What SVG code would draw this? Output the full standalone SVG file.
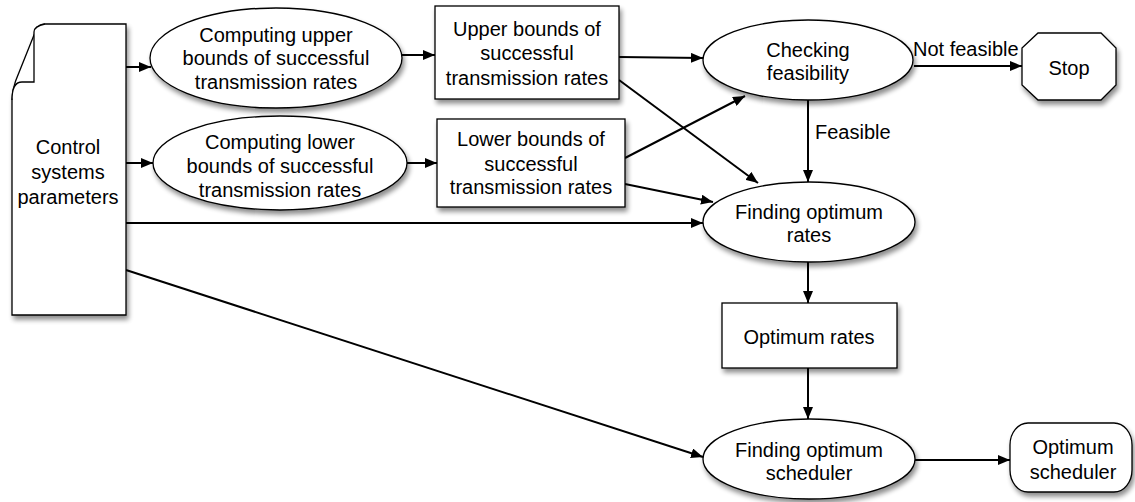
<svg xmlns="http://www.w3.org/2000/svg" width="1135" height="502" viewBox="0 0 1135 502">
<defs>
<style>
.shape{fill:#fff;stroke:#000;stroke-width:1.3}
.lbl{font-family:"Liberation Sans",Arial,sans-serif;font-size:20px;fill:#000;text-anchor:middle}
.lft{text-anchor:start}
.con{fill:none;stroke:#000;stroke-width:2}
</style>
<filter id="sh" x="-10%" y="-10%" width="130%" height="140%">
<feGaussianBlur in="SourceAlpha" stdDeviation="2.5"/>
<feOffset dx="2" dy="4" result="b"/>
<feComponentTransfer><feFuncA type="linear" slope="0.45"/></feComponentTransfer>
<feMerge><feMergeNode/><feMergeNode in="SourceGraphic"/></feMerge>
</filter>
<marker id="ar" viewBox="0 0 12 10" refX="12" refY="5" markerWidth="12" markerHeight="10" markerUnits="userSpaceOnUse" orient="auto">
<path d="M0,0 L12,5 L0,10 Z" fill="#000"/>
</marker>
</defs>
<rect width="1135" height="502" fill="#fff"/>

<g id="connectors">
<line class="con" x1="126" y1="67" x2="151" y2="67" marker-end="url(#ar)"/>
<line class="con" x1="126" y1="163" x2="153" y2="163" marker-end="url(#ar)"/>
<line class="con" x1="402" y1="55" x2="435" y2="55" marker-end="url(#ar)"/>
<line class="con" x1="407" y1="163" x2="437" y2="163" marker-end="url(#ar)"/>
<line class="con" x1="619" y1="57" x2="703" y2="58" marker-end="url(#ar)"/>
<line class="con" x1="619" y1="80" x2="758" y2="183" marker-end="url(#ar)"/>
<line class="con" x1="625" y1="158" x2="745" y2="96" marker-end="url(#ar)"/>
<line class="con" x1="625" y1="184" x2="713" y2="202" marker-end="url(#ar)"/>
<line class="con" x1="126" y1="223" x2="703" y2="223" marker-end="url(#ar)"/>
<line class="con" x1="126" y1="270" x2="703" y2="457" marker-end="url(#ar)"/>
<line class="con" x1="914" y1="66" x2="1022" y2="66" marker-end="url(#ar)"/>
<text class="lbl lft" x="913" y="56">Not feasible</text>
<line class="con" x1="808" y1="100" x2="808" y2="182" marker-end="url(#ar)"/>
<text class="lbl lft" x="815" y="139">Feasible</text>
<line class="con" x1="808" y1="262" x2="808" y2="303" marker-end="url(#ar)"/>
<line class="con" x1="808" y1="368" x2="808" y2="419" marker-end="url(#ar)"/>
<line class="con" x1="915" y1="460" x2="1010" y2="460" marker-end="url(#ar)"/>
</g>

<g id="control-params">
<path class="shape" filter="url(#sh)" d="M12,100 C12,90 14,86 16,80 L36,30 C38,26 40,24 45,24 L126,24 L126,315 L12,315 Z"/>
<path class="shape" d="M45,24 C40,25 34,27 34,32 L34,82 L22,82 C16,82 12,86 12,100"/>
<text class="lbl" x="68" y="154">Control</text>
<text class="lbl" x="68" y="179">systems</text>
<text class="lbl" x="68" y="204">parameters</text>
</g>

<g id="compute-upper">
<ellipse class="shape" filter="url(#sh)" cx="276" cy="58" rx="126" ry="50"/>
<text class="lbl" x="276" y="42">Computing upper</text>
<text class="lbl" x="276" y="65">bounds of successful</text>
<text class="lbl" x="276" y="89">transmission rates</text>
</g>

<g id="compute-lower">
<ellipse class="shape" filter="url(#sh)" cx="280" cy="163" rx="127" ry="47"/>
<text class="lbl" x="280" y="149">Computing lower</text>
<text class="lbl" x="280" y="173">bounds of successful</text>
<text class="lbl" x="280" y="197">transmission rates</text>
</g>

<g id="upper-bounds">
<rect class="shape" filter="url(#sh)" x="435" y="6" width="184" height="93"/>
<text class="lbl" x="527" y="36">Upper bounds of</text>
<text class="lbl" x="527" y="60">successful</text>
<text class="lbl" x="527" y="85">transmission rates</text>
</g>

<g id="lower-bounds">
<rect class="shape" filter="url(#sh)" x="437" y="119" width="188" height="88"/>
<text class="lbl" x="531" y="146">Lower bounds of</text>
<text class="lbl" x="531" y="171">successful</text>
<text class="lbl" x="531" y="194">transmission rates</text>
</g>

<g id="checking">
<ellipse class="shape" filter="url(#sh)" cx="808" cy="60" rx="105" ry="40"/>
<text class="lbl" x="808" y="57">Checking</text>
<text class="lbl" x="808" y="80">feasibility</text>
</g>

<g id="stop">
<polygon class="shape" filter="url(#sh)" points="1038,33 1101,33 1116,48 1116,85 1101,100 1038,100 1022,85 1022,48"/>
<text class="lbl" x="1069" y="75">Stop</text>
</g>

<g id="finding-rates">
<ellipse class="shape" filter="url(#sh)" cx="809" cy="222" rx="106" ry="40"/>
<text class="lbl" x="809" y="219">Finding optimum</text>
<text class="lbl" x="809" y="242">rates</text>
</g>

<g id="optimum-rates">
<rect class="shape" filter="url(#sh)" x="722" y="303" width="175" height="65"/>
<text class="lbl" x="809" y="344">Optimum rates</text>
</g>

<g id="finding-scheduler">
<ellipse class="shape" filter="url(#sh)" cx="809" cy="459" rx="106" ry="40"/>
<text class="lbl" x="809" y="457">Finding optimum</text>
<text class="lbl" x="809" y="480">scheduler</text>
</g>

<g id="optimum-scheduler">
<rect class="shape" filter="url(#sh)" x="1010" y="423" width="122" height="69" rx="18" ry="22"/>
<text class="lbl" x="1073" y="454">Optimum</text>
<text class="lbl" x="1073" y="479">scheduler</text>
</g>
</svg>
